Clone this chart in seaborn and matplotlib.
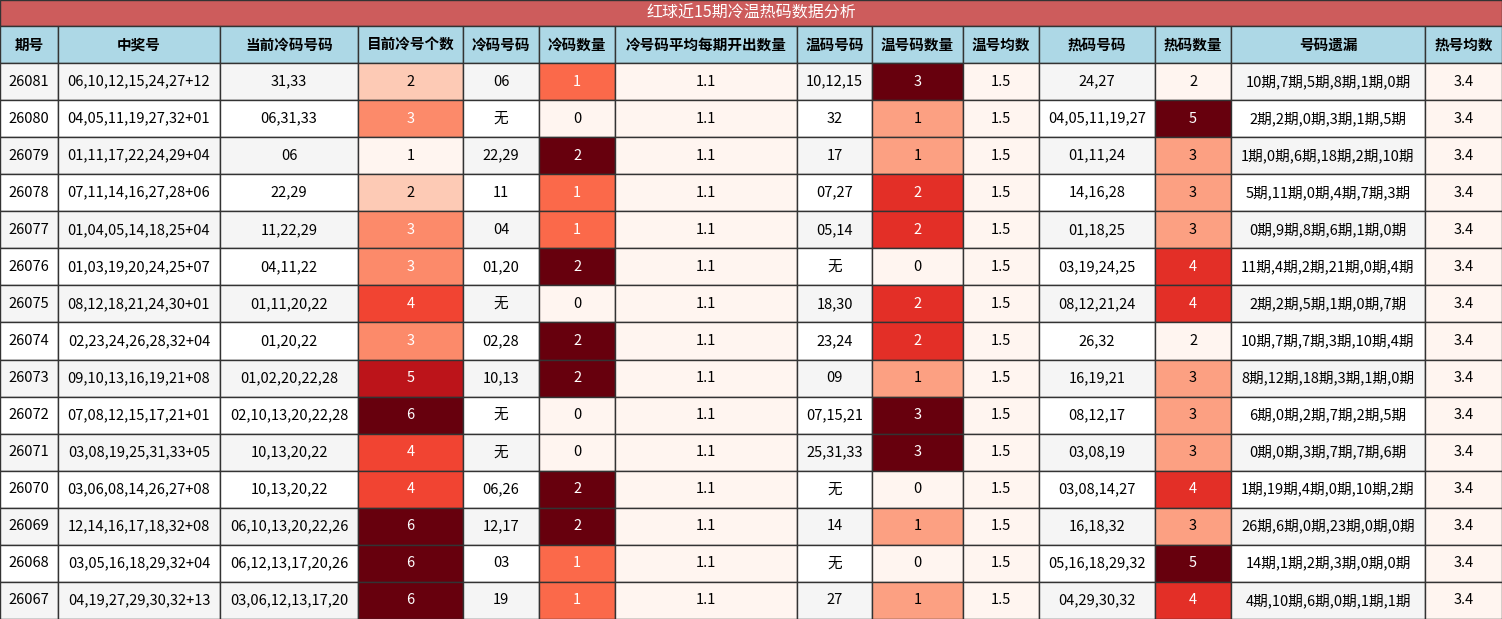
import matplotlib
matplotlib.use("Agg")
import matplotlib.pyplot as plt
import seaborn as sns
from matplotlib.patches import Rectangle

sns.set_theme(style="white")
plt.rcParams['font.family'] = ['Noto Sans CJK SC', 'DejaVu Sans']

title = "红球近15期冷温热码数据分析"
headers = ["期号", "中奖号", "当前冷码号码", "目前冷号个数", "冷码号码", "冷码数量", "冷号码平均每期开出数量",
           "温码号码", "温号码数量", "温号均数", "热码号码", "热码数量", "号码遗漏", "热号均数"]
periods = ["26081","26080","26079","26078","26077","26076","26075","26074","26073","26072","26071","26070","26069","26068","26067"]
draws = ["06,10,12,15,24,27+12","04,05,11,19,27,32+01","01,11,17,22,24,29+04","07,11,14,16,27,28+06",
         "01,04,05,14,18,25+04","01,03,19,20,24,25+07","08,12,18,21,24,30+01","02,23,24,26,28,32+04",
         "09,10,13,16,19,21+08","07,08,12,15,17,21+01","03,08,19,25,31,33+05","03,06,08,14,26,27+08",
         "12,14,16,17,18,32+08","03,05,16,18,29,32+04","04,19,27,29,30,32+13"]
cur_cold = ["31,33","06,31,33","06","22,29","11,22,29","04,11,22","01,11,20,22","01,20,22","01,02,20,22,28",
            "02,10,13,20,22,28","10,13,20,22","10,13,20,22","06,10,13,20,22,26","06,12,13,17,20,26","03,06,12,13,17,20"]
cur_cold_n = [2,3,1,2,3,3,4,3,5,6,4,4,6,6,6]
cold = ["06","无","22,29","11","04","01,20","无","02,28","10,13","无","无","06,26","12,17","03","19"]
cold_n = [1,0,2,1,1,2,0,2,2,0,0,2,2,1,1]
cold_avg = [1.1]*15
warm = ["10,12,15","32","17","07,27","05,14","无","18,30","23,24","09","07,15,21","25,31,33","无","14","无","27"]
warm_n = [3,1,1,2,2,0,2,2,1,3,3,0,1,0,1]
warm_avg = [1.5]*15
hot = ["24,27","04,05,11,19,27","01,11,24","14,16,28","01,18,25","03,19,24,25","08,12,21,24","26,32",
       "16,19,21","08,12,17","03,08,19","03,08,14,27","16,18,32","05,16,18,29,32","04,29,30,32"]
hot_n = [2,5,3,3,3,4,4,2,3,3,3,4,3,5,4]
miss = ["10期,7期,5期,8期,1期,0期","2期,2期,0期,3期,1期,5期","1期,0期,6期,18期,2期,10期","5期,11期,0期,4期,7期,3期",
        "0期,9期,8期,6期,1期,0期","11期,4期,2期,21期,0期,4期","2期,2期,5期,1期,0期,7期","10期,7期,7期,3期,10期,4期",
        "8期,12期,18期,3期,1期,0期","6期,0期,2期,7期,2期,5期","0期,0期,3期,7期,7期,6期","1期,19期,4期,0期,10期,2期",
        "26期,6期,0期,23期,0期,0期","14期,1期,2期,3期,0期,0期","4期,10期,6期,0期,1期,1期"]
hot_avg = [3.4]*15

columns = [periods, draws, cur_cold, cur_cold_n, cold, cold_n, cold_avg, warm, warm_n, warm_avg, hot, hot_n, miss, hot_avg]
numeric = {3, 5, 6, 8, 9, 11, 13}
xs = [0, 58, 220, 358, 463, 539, 615, 797, 872, 963, 1039, 1155, 1231, 1425, 1502]

cmap = sns.color_palette("Reds", as_cmap=True)
fig = plt.figure(figsize=(15.02, 6.19), dpi=100)
ax = fig.add_axes([0, 0, 1, 1])
ax.set_xlim(0, 1502); ax.set_ylim(619, 0); ax.axis("off")

ax.add_patch(Rectangle((0, 0), 1502, 26, facecolor="#cd5c5c", edgecolor="#333333", lw=1))
ax.text(751, 13, title, ha="center", va="center", color="white", fontsize=11.5)
for j, h in enumerate(headers):
    ax.add_patch(Rectangle((xs[j], 26), xs[j+1]-xs[j], 37, facecolor="#add8e6", edgecolor="#333333", lw=1))
    ax.text((xs[j]+xs[j+1])/2, 44.5, h, ha="center", va="center", fontsize=10.5, fontweight="bold", color="black")

rh = (619 - 63) / 15
for j, col in enumerate(columns):
    if j in numeric:
        lo, hi = min(col), max(col)
    for i, v in enumerate(col):
        y = 63 + i*rh
        tc = "black"
        if j in numeric:
            t = 0.0 if hi == lo else (v - lo) / (hi - lo)
            fc = cmap(t)
            if t >= 0.4:
                tc = "white"
        else:
            fc = "#f5f5f5" if i % 2 == 0 else "white"
        ax.add_patch(Rectangle((xs[j], y), xs[j+1]-xs[j], rh, facecolor=fc, edgecolor="#333333", lw=1))
        ax.text((xs[j]+xs[j+1])/2, y + rh/2, str(v), ha="center", va="center", fontsize=10.5, color=tc)

fig.savefig("out.png", dpi=100)
